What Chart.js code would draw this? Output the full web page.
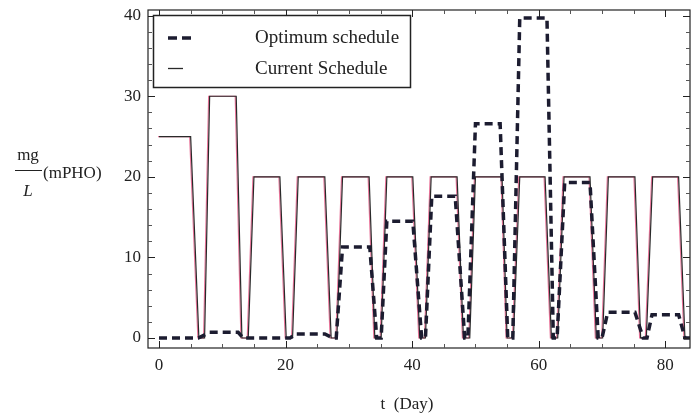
<!DOCTYPE html>
<html>
<head>
<meta charset="utf-8">
<script src="https://cdn.jsdelivr.net/npm/chart.js@4/dist/chart.umd.min.js"></script>
<style>
html,body{margin:0;padding:0;background:#fff;}
#wrap{width:695px;height:418px;position:relative;}
</style>
</head>
<body>
<div id="wrap"><canvas id="c" width="695" height="418"></canvas></div>
<script>
// ---- data ----
const currentT = [0,5,6.3,7.2,8,12.2,13.1,14.1,15,19.1,20.1,21.1,22,26.2,27.2,28.1,29,33.2,34.1,35.1,36,40.1,41.2,42.1,43,47.1,48.1,49.1,50,54.2,55,56,57,61,62,63,64,68.1,69.1,70.1,71,75.2,76.1,77,78,82.1,83.1,84];
const currentV = [25,25,0,0,30,30,0,0,20,20,0,0,20,20,0,0,20,20,0,0,20,20,0,0,20,20,0,0,20,20,0,0,20,20,0,0,20,20,0,0,20,20,0,0,20,20,0,0];
const optimumT = [0,6.2,8,12.5,13.3,20.7,21.5,26.2,27.5,28,29,33.3,34.4,35.1,36,40.1,41.5,42.1,43.1,46.8,48.3,48.8,50,53.9,55.1,55.9,57,61.3,62.3,62.9,64.1,68.1,69.4,70,70.9,75.2,76.5,77.1,77.9,82.1,83.1,84];
const optimumV = [0,0,0.7,0.7,0,0,0.5,0.5,0,0,11.3,11.3,0,0,14.5,14.5,0,0,17.6,17.6,0,0,26.6,26.6,0,0,39.7,39.7,0,0,19.3,19.3,0,0,3.2,3.2,0,0,2.9,2.9,0,0];
const xTickLabels = [0,20,40,60,80];
const yTickLabels = [0,10,20,30,40];
const xMinorTicks = [5,10,15,25,30,35,45,50,55,65,70,75];
const yMinorTicks = [2,4,6,8,12,14,16,18,22,24,26,28,32,34,36,38];
const legendLabels = ['Optimum schedule','Current Schedule'];
const xTitle = 't  (Day)';
const yTitleNum = 'mg', yTitleDen = 'L', yTitleUnit = '(mPHO)';

const toXY = (t, v) => t.map((x, i) => ({x: x, y: v[i]}));

const SERIF = '"Liberation Serif", "Times New Roman", serif';

const framePlugin = {
  id: 'frame',
  beforeDatasetDraw(chart, args) {
    const ctx = chart.ctx;
    if (args.index === 1) {
      ctx.save();
      ctx.shadowColor = 'rgba(225,70,120,0.75)';
      ctx.shadowOffsetX = -1;
      ctx.shadowOffsetY = 0;
      ctx.shadowBlur = 0.5;
    }
  },
  afterDatasetDraw(chart, args) {
    if (args.index === 1) chart.ctx.restore();
  },
  afterDraw(chart) {
    const ctx = chart.ctx;
    const a = chart.chartArea;
    const xs = chart.scales.x, ys = chart.scales.y;
    ctx.save();
    ctx.strokeStyle = '#222';
    ctx.lineWidth = 1.2;
    ctx.strokeRect(a.left, a.top, a.right - a.left, a.bottom - a.top);
    ctx.lineWidth = 1;
    // x ticks
    const tickX = (v, len) => {
      const px = Math.round(xs.getPixelForValue(v)) + 0.5;
      ctx.beginPath();
      ctx.moveTo(px, a.bottom); ctx.lineTo(px, a.bottom - len);
      ctx.moveTo(px, a.top); ctx.lineTo(px, a.top + len);
      ctx.stroke();
    };
    const tickY = (v, len) => {
      const py = Math.round(ys.getPixelForValue(v)) + 0.5;
      ctx.beginPath();
      ctx.moveTo(a.left, py); ctx.lineTo(a.left + len, py);
      ctx.moveTo(a.right, py); ctx.lineTo(a.right - len, py);
      ctx.stroke();
    };
    xTickLabels.forEach(v => tickX(v, 7));
    yTickLabels.forEach(v => tickY(v, 7));
    ctx.strokeStyle = '#555';
    xMinorTicks.forEach(v => tickX(v, 4));
    yMinorTicks.forEach(v => tickY(v, 4));
    // tick labels
    ctx.fillStyle = '#222';
    ctx.font = '17px ' + SERIF;
    ctx.textAlign = 'center';
    ctx.textBaseline = 'middle';
    xTickLabels.forEach(v => ctx.fillText(String(v), xs.getPixelForValue(v), 366));
    ctx.textAlign = 'right';
    yTickLabels.forEach(v => ctx.fillText(String(v), 141, ys.getPixelForValue(v)));
    // x title
    ctx.textAlign = 'center';
    ctx.fillText(xTitle, 407, 405);
    // y title
    ctx.fillText(yTitleNum, 28, 156);
    ctx.beginPath();
    ctx.strokeStyle = '#222';
    ctx.moveTo(15, 170.5); ctx.lineTo(42, 170.5); ctx.stroke();
    ctx.font = 'italic 17px ' + SERIF;
    ctx.fillText(yTitleDen, 28, 192);
    ctx.font = '17px ' + SERIF;
    ctx.textAlign = 'left';
    ctx.fillText(yTitleUnit, 43, 174);
    // legend
    ctx.fillStyle = '#fff';
    ctx.fillRect(153, 15, 257, 72);
    ctx.strokeStyle = '#222';
    ctx.lineWidth = 1.5;
    ctx.strokeRect(153.5, 15.5, 257, 72);
    ctx.strokeStyle = '#1c1c30';
    ctx.lineWidth = 3.5;
    ctx.setLineDash([9, 5]);
    ctx.beginPath(); ctx.moveTo(168, 38); ctx.lineTo(194, 38); ctx.stroke();
    ctx.setLineDash([]);
    ctx.lineWidth = 1.3;
    ctx.strokeStyle = '#2a2a2a';
    ctx.beginPath(); ctx.moveTo(168, 68.5); ctx.lineTo(183, 68.5); ctx.stroke();
    ctx.fillStyle = '#222';
    ctx.font = '19px ' + SERIF;
    ctx.textAlign = 'left';
    ctx.textBaseline = 'middle';
    ctx.fillText(legendLabels[0], 255, 38);
    ctx.fillText(legendLabels[1], 255, 69);
    ctx.restore();
  }
};

new Chart(document.getElementById('c'), {
  type: 'scatter',
  data: {
    datasets: [
      {
        label: legendLabels[0],
        data: toXY(optimumT, optimumV),
        showLine: true,
        borderColor: '#1c1c30',
        borderWidth: 3.5,
        borderDash: [8, 5],
        pointRadius: 0,
        tension: 0,
        order: 0
      },
      {
        label: legendLabels[1],
        data: toXY(currentT, currentV),
        showLine: true,
        borderColor: '#2a2a2a',
        borderWidth: 1.2,
        pointRadius: 0,
        tension: 0,
        order: 1
      }
    ]
  },
  options: {
    responsive: false,
    animation: false,
    devicePixelRatio: 1,
    layout: {padding: {left: 148, right: 5, top: 10, bottom: 70}},
    plugins: {legend: {display: false}, tooltip: {enabled: false}},
    scales: {
      x: {type: 'linear', min: -1.74, max: 83.9, display: false},
      y: {type: 'linear', min: -1.24, max: 40.7, display: false}
    }
  },
  plugins: [framePlugin]
});
</script>
</body>
</html>
